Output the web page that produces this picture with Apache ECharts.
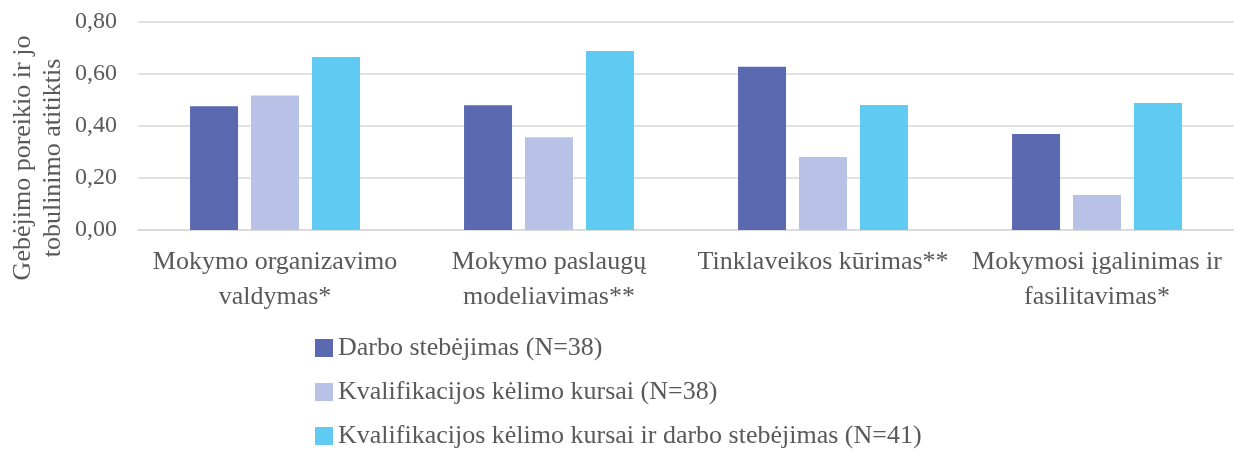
<!DOCTYPE html>
<html>
<head>
<meta charset="utf-8">
<script src="https://cdn.jsdelivr.net/npm/echarts@6/dist/echarts.min.js"></script>
<style>
  html, body { margin: 0; padding: 0; background: #ffffff; }
  #chart { width: 1234px; height: 450px; }
</style>
</head>
<body>
<div id="chart"></div>
<script>
// kategorijos ir serijos
var categories = [
  "Mokymo organizavimo\nvaldymas*",
  "Mokymo paslaugų\nmodeliavimas**",
  "Tinklaveikos kūrimas**",
  "Mokymosi įgalinimas ir\nfasilitavimas*"
];
var seriesNames = [
  "Darbo stebėjimas (N=38)",
  "Kvalifikacijos kėlimo kursai (N=38)",
  "Kvalifikacijos kėlimo kursai ir darbo stebėjimas (N=41)"
];
var darboStebejimas = [0.476, 0.480, 0.628, 0.369];
var kursai = [0.517, 0.357, 0.281, 0.135];
var kursaiIrStebejimas = [0.665, 0.688, 0.481, 0.488];
var yTicks = [0, 0.2, 0.4, 0.6, 0.8];
var yAxisName = "Gebėjimo poreikio ir jo\ntobulinimo atitiktis";

var font = "Liberation Serif";
var textColor = "#595959";
var gridColor = "#d9d9d9";
var colors = ["#5b69b0", "#b8c2e7", "#5fcbf2"];

var myChart = echarts.init(document.getElementById("chart"));
var seriesData = [darboStebejimas, kursai, kursaiIrStebejimas];

var option = {
  backgroundColor: "#ffffff",
  animation: false,
  color: colors,
  grid: {
    left: 138,
    right: -4,
    top: 22,
    bottom: 220
  },
  graphic: [
    {
      type: "text",
      x: 38,
      y: 158,
      rotation: Math.PI / 2,
      style: {
        text: yAxisName,
        fontSize: 26,
        fontFamily: font,
        lineHeight: 30,
        fill: textColor,
        align: "center",
        verticalAlign: "middle",
        textAlign: "center",
        textVerticalAlign: "middle"
      }
    }
  ],
  legend: {
    orient: "vertical",
    left: 315,
    top: 335,
    padding: 0,
    itemWidth: 18,
    itemHeight: 18,
    itemGap: 18,
    icon: "rect",
    textStyle: {
      fontFamily: font,
      fontSize: 26,
      lineHeight: 26,
      color: textColor
    },
    data: seriesNames
  },
  xAxis: {
    type: "category",
    data: categories,
    axisLine: { show: true, lineStyle: { color: gridColor, width: 1.5 } },
    axisTick: { show: false },
    axisLabel: {
      margin: 15,
      fontFamily: font,
      fontSize: 26,
      lineHeight: 35,
      color: textColor,
      interval: 0
    }
  },
  yAxis: {
    type: "value",
    min: yTicks[0],
    max: yTicks[yTicks.length - 1],
    interval: 0.2,
    axisLine: { show: false },
    axisTick: { show: false },
    splitLine: { show: true, lineStyle: { color: gridColor, width: 1.5 } },
    axisLabel: {
      margin: 21,
      fontFamily: font,
      fontSize: 24,
      color: textColor,
      formatter: function (v) {
        return v.toFixed(2).replace(".", ",");
      }
    }
  },
  series: seriesNames.map(function (name, i) {
    return {
      name: name,
      type: "bar",
      barWidth: 48,
      barGap: "27%",
      data: seriesData[i]
    };
  })
};

myChart.setOption(option);
</script>
</body>
</html>
